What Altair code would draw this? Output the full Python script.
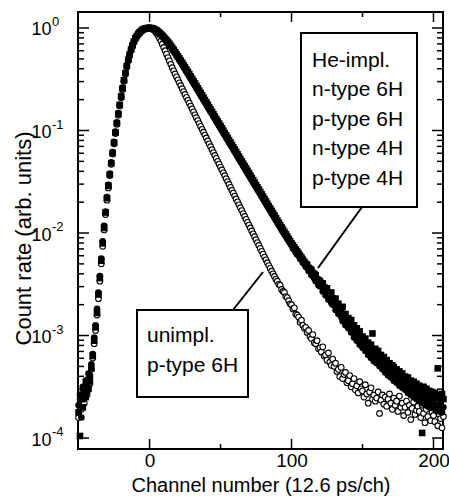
import altair as alt
import pandas as pd

# ---------------- data (log10 of normalised count rate, one value per channel) -------------
channel_start = -50

unimpl_p6h_log = [
    -3.80, -3.62, -3.72, -3.55, -3.66, -3.48, -3.58, -3.42, -3.47, -3.33,
    -3.22, -3.08, -2.95, -2.80, -2.64, -2.47, -2.30, -2.13, -1.97, -1.82,
    -1.68, -1.56, -1.44, -1.33, -1.23, -1.13, -1.03, -0.94, -0.85, -0.76,
    -0.68, -0.60, -0.52, -0.45, -0.38, -0.32, -0.27, -0.22, -0.18, -0.14,
    -0.11, -0.085, -0.065, -0.048, -0.034, -0.022, -0.013, -0.007, -0.003, -0.001,
    0.0, -0.003, -0.01, -0.02, -0.035, -0.053, -0.075, -0.10, -0.128, -0.158,
    -0.19, -0.222, -0.255, -0.288, -0.321, -0.354, -0.387, -0.418, -0.448, -0.477,
    -0.506, -0.535, -0.563, -0.592, -0.620, -0.648, -0.677, -0.705, -0.733, -0.762,
    -0.790, -0.818, -0.847, -0.875, -0.903, -0.932, -0.960, -0.988, -1.017, -1.045,
    -1.073, -1.102, -1.130, -1.158, -1.187, -1.215, -1.243, -1.272, -1.300, -1.328,
    -1.357, -1.385, -1.413, -1.441, -1.470, -1.498, -1.526, -1.555, -1.583, -1.611,
    -1.640, -1.668, -1.696, -1.725, -1.753, -1.781, -1.810, -1.838, -1.866, -1.895,
    -1.923, -1.951, -1.980, -2.008, -2.036, -2.065, -2.093, -2.121, -2.150, -2.178,
    -2.206, -2.234, -2.262, -2.290, -2.318, -2.345, -2.372, -2.398, -2.424, -2.450,
    -2.47, -2.50, -2.51, -2.55, -2.57, -2.58, -2.62, -2.63, -2.66, -2.69,
    -2.70, -2.74, -2.73, -2.79, -2.80, -2.82, -2.87, -2.85, -2.90, -2.93,
    -2.92, -2.97, -2.95, -3.01, -3.03, -2.99, -3.07, -3.08, -3.05, -3.13,
    -3.12, -3.16, -3.11, -3.20, -3.19, -3.24, -3.17, -3.26, -3.29, -3.23,
    -3.30, -3.27, -3.35, -3.33, -3.40, -3.31, -3.42, -3.38, -3.36, -3.46,
    -3.44, -3.39, -3.50, -3.47, -3.42, -3.53, -3.49, -3.56, -3.45, -3.52,
    -3.54, -3.60, -3.48, -3.57, -3.66, -3.55, -3.51, -3.62, -3.58, -3.64,
    -3.61, -3.55, -3.76, -3.63, -3.58, -3.67, -3.60, -3.69, -3.62, -3.57,
    -3.66, -3.72, -3.61, -3.68, -3.64, -3.74, -3.59, -3.70, -3.66, -3.78,
    -3.70, -3.64, -3.75, -3.68, -3.82, -3.71, -3.65, -3.77, -3.73, -3.69,
    -3.74, -3.80, -3.68, -3.76, -3.85, -3.72, -3.79, -3.70, -3.83, -3.75,
    -3.78, -3.84, -3.73, -3.88, -3.77, -3.81, -3.90, -3.79,
]

he_impl_sq_log = [
    -3.75, -3.98, -3.62, -3.70, -3.55, -3.60, -3.46, -3.52, -3.40, -3.32,
    -3.20, -3.05, -2.92, -2.78, -2.60, -2.44, -2.27, -2.10, -1.95, -1.80,
    -1.66, -1.54, -1.43, -1.32, -1.22, -1.12, -1.02, -0.93, -0.84, -0.75,
    -0.67, -0.59, -0.51, -0.44, -0.37, -0.31, -0.26, -0.21, -0.17, -0.13,
    -0.10, -0.078, -0.058, -0.042, -0.029, -0.018, -0.010, -0.005, -0.002, 0.0,
    0.0, -0.001, -0.004, -0.009, -0.016, -0.025, -0.035, -0.047, -0.06, -0.074,
    -0.089, -0.104, -0.12, -0.137, -0.155, -0.174, -0.193, -0.213, -0.234, -0.255,
    -0.276, -0.297, -0.318, -0.34, -0.362, -0.384, -0.406, -0.428, -0.45, -0.473,
    -0.496, -0.519, -0.542, -0.565, -0.588, -0.611, -0.634, -0.657, -0.68, -0.703,
    -0.726, -0.749, -0.772, -0.795, -0.818, -0.841, -0.864, -0.887, -0.91, -0.933,
    -0.956, -0.979, -1.002, -1.025, -1.048, -1.071, -1.094, -1.117, -1.14, -1.163,
    -1.186, -1.209, -1.232, -1.255, -1.278, -1.301, -1.324, -1.347, -1.37, -1.393,
    -1.416, -1.439, -1.462, -1.485, -1.508, -1.531, -1.554, -1.577, -1.60, -1.623,
    -1.646, -1.669, -1.692, -1.715, -1.738, -1.761, -1.784, -1.807, -1.83, -1.853,
    -1.876, -1.899, -1.922, -1.945, -1.968, -1.99, -2.012, -2.034, -2.056, -2.078,
    -2.10, -2.12, -2.14, -2.16, -2.18, -2.20, -2.22, -2.24, -2.26, -2.28,
    -2.30, -2.31, -2.34, -2.35, -2.36, -2.39, -2.40, -2.41, -2.45, -2.46,
    -2.47, -2.50, -2.49, -2.53, -2.55, -2.54, -2.59, -2.60, -2.58, -2.64,
    -2.66, -2.64, -2.70, -2.69, -2.73, -2.76, -2.72, -2.80, -2.79, -2.84,
    -2.83, -2.88, -2.85, -2.92, -2.90, -2.95, -2.93, -2.99, -2.96, -3.03,
    -3.01, -3.06, -3.03, -3.10, -3.07, -3.12, -3.09, -2.98, -3.15, -3.13,
    -3.18, -3.15, -3.22, -3.19, -3.25, -3.21, -3.28, -3.24, -3.30, -3.27,
    -3.33, -3.29, -3.31, -3.36, -3.33, -3.39, -3.35, -3.40, -3.37, -3.43,
    -3.40, -3.45, -3.41, -3.47, -3.44, -3.49, -3.45, -3.51, -3.47, -3.53,
    -3.49, -3.54, -3.95, -3.50, -3.56, -3.52, -3.58, -3.54, -3.60, -3.55,
    -3.59, -3.56, -3.61, -3.32, -3.58, -3.63, -3.57, -3.62,
]

he_impl_circ_log = [
    -3.68, -3.58, -3.80, -3.50, -3.62, -3.44, -3.55, -3.37, -3.45, -3.28,
    -3.18, -3.02, -2.90, -2.74, -2.58, -2.42, -2.25, -2.08, -1.93, -1.79,
    -1.65, -1.53, -1.42, -1.31, -1.21, -1.11, -1.01, -0.92, -0.83, -0.75,
    -0.66, -0.58, -0.51, -0.44, -0.37, -0.31, -0.26, -0.21, -0.17, -0.13,
    -0.10, -0.077, -0.057, -0.041, -0.028, -0.018, -0.010, -0.005, -0.002, 0.0,
    0.0, -0.002, -0.006, -0.012, -0.02, -0.03, -0.041, -0.053, -0.066, -0.080,
    -0.095, -0.111, -0.128, -0.146, -0.165, -0.185, -0.205, -0.226, -0.247, -0.268,
    -0.29, -0.312, -0.334, -0.357, -0.38, -0.403, -0.426, -0.449, -0.472, -0.495,
    -0.518, -0.541, -0.564, -0.587, -0.61, -0.633, -0.656, -0.679, -0.702, -0.725,
    -0.748, -0.771, -0.794, -0.817, -0.84, -0.863, -0.886, -0.909, -0.932, -0.955,
    -0.978, -1.001, -1.024, -1.047, -1.07, -1.093, -1.116, -1.139, -1.162, -1.185,
    -1.208, -1.231, -1.254, -1.277, -1.30, -1.323, -1.346, -1.369, -1.392, -1.415,
    -1.438, -1.461, -1.484, -1.507, -1.53, -1.553, -1.576, -1.599, -1.622, -1.645,
    -1.668, -1.691, -1.714, -1.737, -1.76, -1.783, -1.806, -1.829, -1.852, -1.875,
    -1.898, -1.921, -1.944, -1.967, -1.99, -2.012, -2.034, -2.056, -2.078, -2.10,
    -2.12, -2.15, -2.16, -2.19, -2.21, -2.22, -2.25, -2.26, -2.29, -2.30,
    -2.33, -2.34, -2.37, -2.36, -2.41, -2.42, -2.44, -2.47, -2.46, -2.51,
    -2.52, -2.51, -2.57, -2.56, -2.61, -2.59, -2.65, -2.63, -2.68, -2.70,
    -2.69, -2.75, -2.73, -2.79, -2.77, -2.82, -2.86, -2.81, -2.90, -2.87,
    -2.93, -2.91, -2.97, -2.95, -3.02, -2.99, -3.05, -3.01, -3.09, -3.06,
    -3.12, -3.08, -3.15, -3.13, -3.19, -3.14, -3.22, -3.18, -3.25, -3.20,
    -3.27, -3.23, -3.30, -3.26, -3.33, -3.29, -3.36, -3.31, -3.39, -3.34,
    -3.41, -3.37, -3.44, -3.39, -3.46, -3.42, -3.49, -3.44, -3.51, -3.47,
    -3.53, -3.49, -3.56, -3.51, -3.58, -3.53, -3.60, -3.55, -3.62, -3.57,
    -3.64, -3.59, -3.66, -3.61, -3.67, -3.63, -3.69, -3.64, -3.70, -3.66,
    -3.71, -3.67, -3.73, -3.68, -3.74, -3.69, -3.75, -3.70,
]

y_major = [1e-4, 1e-3, 1e-2, 1e-1, 1.0]
y_exponents = ["-4", "-3", "-2", "-1", "0"]
x_major = [0, 100, 200]
x_minor = [50, 150]

box1_lines = ["He-impl.", "n-type 6H", "p-type 6H", "n-type 4H", "p-type 4H"]
box2_lines = ["unimpl.", "p-type 6H"]

# ---------------- build tables ----------------
def table(vals, name):
    return pd.DataFrame({
        "channel": list(range(channel_start, channel_start + len(vals))),
        "rate": [10 ** v for v in vals],
        "series": name,
    })

df_un = table(unimpl_p6h_log, "unimpl. p-type 6H")
df_sq = table(he_impl_sq_log, "He-impl. A")
df_ci = table(he_impl_circ_log, "He-impl. B")

W, H = 365, 437
FONT = "Liberation Sans"
xs = alt.Scale(domain=[-50.4, 206.7], nice=False, zero=False)
ys = alt.Scale(type="log", domain=[7.82e-5, 1.432], nice=False)

x_enc = alt.X("channel:Q", scale=xs, axis=alt.Axis(
    values=x_major, ticks=False, domain=False, grid=False, labelFontSize=19,
    labelPadding=2, labelFont=FONT, labelColor="black",
    title="Channel number (12.6 ps/ch)", titleFont=FONT, titleFontSize=20,
    titleFontWeight="normal", titleColor="black", titleBaseline="alphabetic", titleY=42))
y_enc = alt.Y("rate:Q", scale=ys, axis=alt.Axis(
    values=y_major, labelExpr="'10'", ticks=False, domain=False, grid=False,
    labelFontSize=18, labelPadding=27, labelFont=FONT, labelColor="black", labelOffset=2,
    title="Count rate (arb. units)", titleFont=FONT, titleFontSize=22,
    titleFontWeight="normal", titleColor="black", titleAngle=270, titleX=-55, titleY=226,
    titleAlign="center", titleBaseline="middle"))

un_layer = alt.Chart(df_un).mark_point(
    shape="circle", filled=True, fill="white", stroke="black", strokeWidth=1.1, size=32, opacity=1
).encode(x=x_enc, y=y_enc)
sq_layer = alt.Chart(df_sq).mark_square(color="black", size=44, opacity=1).encode(x="channel:Q", y="rate:Q")
ci_layer = alt.Chart(df_ci).mark_circle(color="black", size=44, opacity=1).encode(x="channel:Q", y="rate:Q")

# exponent of the y tick labels (superscript)
exp_df = pd.DataFrame({"rate": y_major, "e": y_exponents})
exp_layer = alt.Chart(exp_df).mark_text(
    align="left", baseline="middle", font=FONT, fontSize=13, color="black", dy=-6
).encode(y="rate:Q", x=alt.value(-26), text="e:N")

# ---------------- inward ticks ----------------
y_minor = [m * 10 ** e for e in range(-4, 0) for m in range(2, 10)]
ytick_df = pd.DataFrame({"rate": y_major + y_minor, "len": [11] * len(y_major) + [6] * len(y_minor)})
xtick_df = pd.DataFrame({"channel": x_major + x_minor, "len": [10] * len(x_major) + [5] * len(x_minor)})

tick_layers = []
for major in (True, False):
    L = 11 if major else 6
    d = ytick_df[ytick_df["len"] == L]
    tick_layers.append(alt.Chart(d).mark_rule(color="black", strokeWidth=1.5).encode(
        y="rate:Q", x=alt.value(0), x2=alt.value(L)))
    tick_layers.append(alt.Chart(d).mark_rule(color="black", strokeWidth=1.5).encode(
        y="rate:Q", x=alt.value(W - L), x2=alt.value(W)))
    Lx = 10 if major else 5
    dx = xtick_df[xtick_df["len"] == Lx]
    tick_layers.append(alt.Chart(dx).mark_rule(color="black", strokeWidth=1.5).encode(
        x="channel:Q", y=alt.value(0), y2=alt.value(Lx)))
    tick_layers.append(alt.Chart(dx).mark_rule(color="black", strokeWidth=1.5).encode(
        x="channel:Q", y=alt.value(H - Lx), y2=alt.value(H)))

# ---------------- annotations ----------------
ann = []
ann.append(alt.Chart(pd.DataFrame({"a": [0]})).mark_rule(color="black", strokeWidth=2).encode(
    x=alt.value(284), x2=alt.value(240), y=alt.value(195), y2=alt.value(256)))
ann.append(alt.Chart(pd.DataFrame({"a": [0]})).mark_rule(color="black", strokeWidth=2).encode(
    x=alt.value(155), x2=alt.value(185), y=alt.value(298), y2=alt.value(260)))
ann.append(alt.Chart(pd.DataFrame({"a": [0]})).mark_rect(fill="white", stroke="black", strokeWidth=2).encode(
    x=alt.value(223), x2=alt.value(339), y=alt.value(21), y2=alt.value(195)))
ann.append(alt.Chart(pd.DataFrame({"a": [0]})).mark_rect(fill="white", stroke="black", strokeWidth=2).encode(
    x=alt.value(59), x2=alt.value(170), y=alt.value(298), y2=alt.value(385)))
for i, t in enumerate(box1_lines):
    ann.append(alt.Chart(pd.DataFrame({"t": [t]})).mark_text(
        align="left", baseline="alphabetic", font=FONT, fontSize=21, color="black"
    ).encode(text="t:N", x=alt.value(234), y=alt.value(54.5 + 29.5 * i)))
for i, t in enumerate(box2_lines):
    ann.append(alt.Chart(pd.DataFrame({"t": [t]})).mark_text(
        align="left", baseline="alphabetic", font=FONT, fontSize=21, color="black"
    ).encode(text="t:N", x=alt.value(69), y=alt.value(329.7 + 30 * i)))

chart = alt.layer(un_layer, sq_layer, ci_layer, exp_layer, *tick_layers, *ann).properties(
    width=W, height=H,
    autosize=alt.AutoSizeParams(type="none"),
    padding={"left": 78, "top": 12, "right": 6, "bottom": 47},
    background="white",
).configure_view(stroke="black", strokeWidth=2)

chart.save("out.html", embed_options={"renderer": "svg", "actions": False})
